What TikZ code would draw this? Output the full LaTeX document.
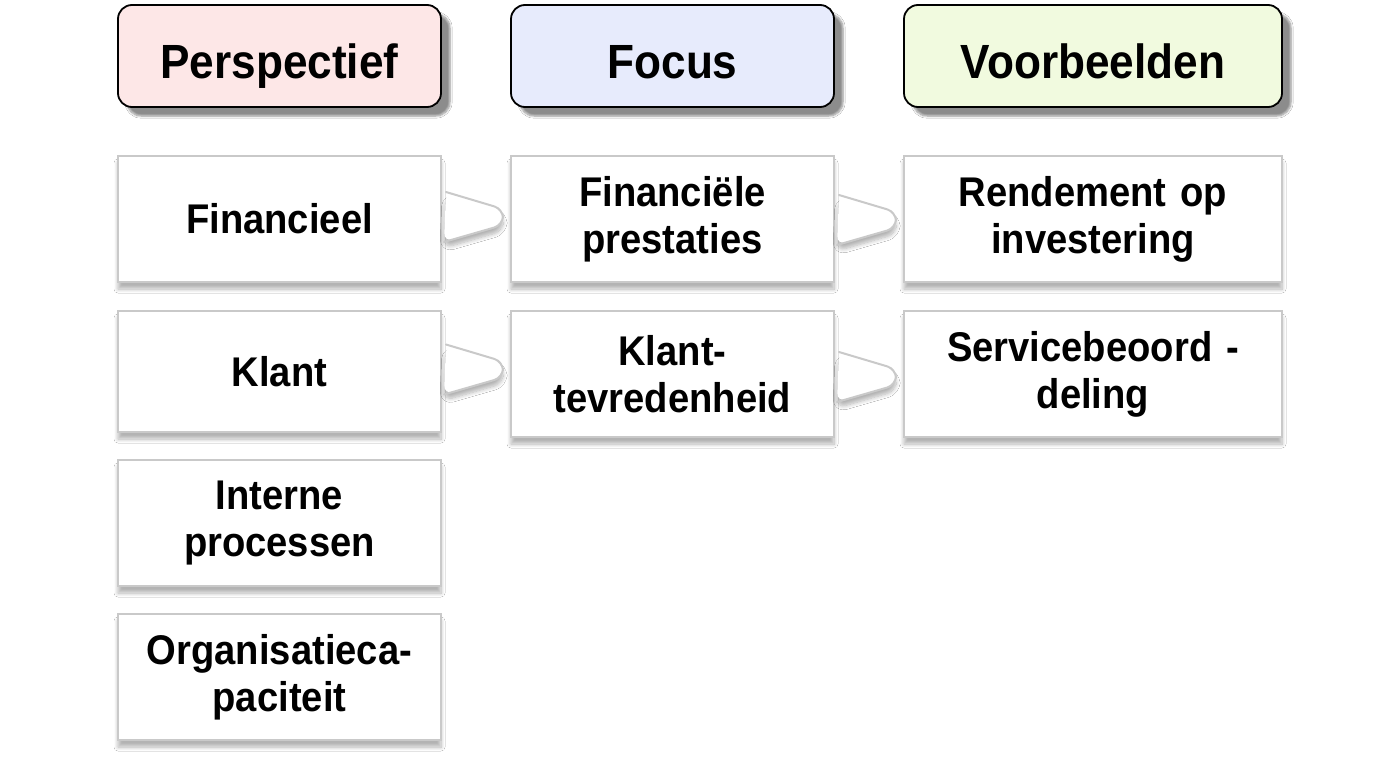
\documentclass[tikz,border=0pt]{standalone}
\usepackage{fontspec}
\setmainfont{Liberation Sans}[FakeStretch=0.92]
\usetikzlibrary{shadows.blur,calc}
\definecolor{pinkfill}{HTML}{FDE7E7}
\definecolor{bluefill}{HTML}{E7EBFC}
\definecolor{greenfill}{HTML}{F1FADF}
\definecolor{boxline}{HTML}{C9C9C9}
\tikzset{
  hdr/.style={draw=black, line width=1.8pt, rounded corners=14pt, inner sep=0pt,
    minimum height=102pt, align=center, text height=44pt, text depth=0pt,
    font=\fontsize{48}{52}\selectfont\bfseries,
    blur shadow={shadow xshift=9pt, shadow yshift=-9pt, shadow blur steps=6, shadow blur extra rounding=2pt, shadow opacity=45}},
  cell/.style={draw=boxline, fill=white, line width=2pt, inner sep=0pt,
    align=center, font=\fontsize{41.5}{47}\selectfont\bfseries,
    blur shadow={shadow xshift=0pt, shadow yshift=-7pt, shadow blur steps=8, shadow blur radius=4pt, shadow opacity=30}},
  narrow/.style={minimum width=323pt, text width=320pt},
  wide/.style={minimum width=378pt, text width=375pt},
  pointerfill/.style={fill=white, rounded corners=9pt,
    blur shadow={shadow xshift=0pt, shadow yshift=-6pt, shadow blur steps=8, shadow blur radius=4pt, shadow opacity=30}},
  pointerline/.style={draw=boxline, line width=2pt, rounded corners=9pt, line join=round, line cap=round}
}
\begin{document}
\begin{tikzpicture}[x=1pt,y=-1pt]
\useasboundingbox[fill=white] (0,0) rectangle (1376,768);
% headers
\node[hdr, narrow, fill=pinkfill] (h1) at (279.5,56) {Perspectief};
\node[hdr, narrow, fill=bluefill] (h2) at (672.5,56) {Focus};
\node[hdr, wide, fill=greenfill] (h3) at (1093,56) {Voorbeelden};
% column 1
\node[cell, narrow, minimum height=126pt] (p1) at (279.5,219) {Financieel};
\node[cell, narrow, minimum height=121pt] (p2) at (279.5,371.5) {Klant};
\node[cell, narrow, minimum height=126pt] (p3) at (279.5,523) {Interne\\processen};
\node[cell, narrow, minimum height=126pt] (p4) at (279.5,677) {Organisatieca-\\paciteit};
% column 2
\node[cell, narrow, minimum height=126pt] (f1) at (672.5,219) {Financiële\\prestaties};
\node[cell, narrow, minimum height=126pt] (f2) at (672.5,374) {Klant-\\tevredenheid};
% column 3
\node[cell, wide, minimum height=126pt] (v1) at (1093,219) {Rendement op\\investering};
\node[cell, wide, minimum height=126pt] (v2) at (1093,374) {Servicebeoord -\\deling};
% pointers
\coordinate (c1) at ($(p1.east)+(0,-2)$);
\coordinate (c2) at ($(p2.east)+(0,-2)$);
\coordinate (c3) at ($(f1.east)+(0,1)$);
\coordinate (c4) at ($(f2.east)+(0,3)$);
\foreach \c in {c1,c2,c3,c4}{
  \path[pointerfill] ($(\c)+(4,-25)$) -- ($(\c)+(61,-8)$) -- ($(\c)+(61,8)$) -- ($(\c)+(2,25)$) -- cycle;
  \draw[pointerline] ($(\c)+(4,-25)$) -- ($(\c)+(61,-8)$) -- ($(\c)+(61,8)$) -- ($(\c)+(2,25)$);
}
\end{tikzpicture}
\end{document}
